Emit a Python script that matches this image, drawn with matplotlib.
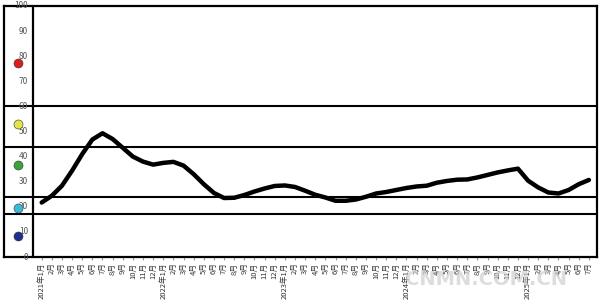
import matplotlib
matplotlib.use('Agg')
import matplotlib.pyplot as plt

plt.rcParams['font.family'] = ['Noto Sans CJK SC', 'DejaVu Sans']

# monthly index, 2021-01 .. 2025-07
years = [2021, 2022, 2023, 2024, 2025]
index_vals = [21.7, 24.4, 28.4, 34.4, 41.0, 46.8, 49.3, 47.0, 43.5, 40.0, 38.0, 36.8,
              37.5, 37.9, 36.4, 33.0, 29.0, 25.5, 23.5, 23.6, 24.7, 26.1, 27.3, 28.3,
              28.5, 27.9, 26.4, 24.8, 23.7, 22.4, 22.4, 22.9, 24.0, 25.3, 25.9, 26.7,
              27.5, 28.1, 28.4, 29.6, 30.3, 30.8, 30.9, 31.7, 32.7, 33.7, 34.5, 35.2,
              30.4, 27.7, 25.7, 25.3, 26.7, 29.0, 30.7]
zone_lines = [60, 44, 24, 17]
light_vals = [77.3, 52.8, 36.8, 19.7, 8.4]
light_colors = ['#d81e1e', '#e3e34a', '#3aa33a', '#3cb8d8', '#1f2f8f']
yticks = list(range(0, 101, 10))

labels = []
for i in range(len(index_vals)):
    m = i % 12 + 1
    if m == 1:
        labels.append(f'{years[i // 12]}年1月')
    else:
        labels.append(f'{m}月')

fig = plt.figure(figsize=(6, 3.02), dpi=100)
ax = fig.add_axes([4 / 600, 1 - 257 / 302, 593 / 600, 251 / 302])
ax.set_xlim(-3.72, 54.8)
ax.set_ylim(0, 100)

for v in zone_lines:
    ax.axhline(v, color='black', lw=1.5, zorder=2)
ax.axvline(-0.86, color='black', lw=1.6, zorder=2)

x = list(range(len(index_vals)))
ax.plot(x, index_vals, color='black', lw=3.2, solid_joinstyle='round',
        solid_capstyle='round', zorder=4)

for v, c in zip(light_vals, light_colors):
    ax.plot([-2.3], [v], 'o', ms=6.5, color=c, mec='#333333', mew=0.4,
            clip_on=False, zorder=5)

for t in yticks:
    ax.text(-1.35, t, str(t), ha='right', va='center', fontsize=6,
            color='#555555', clip_on=False)

ax.set_yticks([])
ax.set_xticks(x)
ax.set_xticklabels(labels, rotation=90, fontsize=5.5, color='#333333')
ax.tick_params(axis='x', length=2, color='#999999', pad=2)

for s in ax.spines.values():
    s.set_linewidth(1.6)
    s.set_color('black')

fig.text(0.81, 0.075, 'CNMN.COM.CN', fontsize=14, fontweight='bold',
         color='#cfcfcf', alpha=0.7, ha='center', va='center', family='DejaVu Sans')

fig.savefig('out.png', dpi=100, facecolor='white')
